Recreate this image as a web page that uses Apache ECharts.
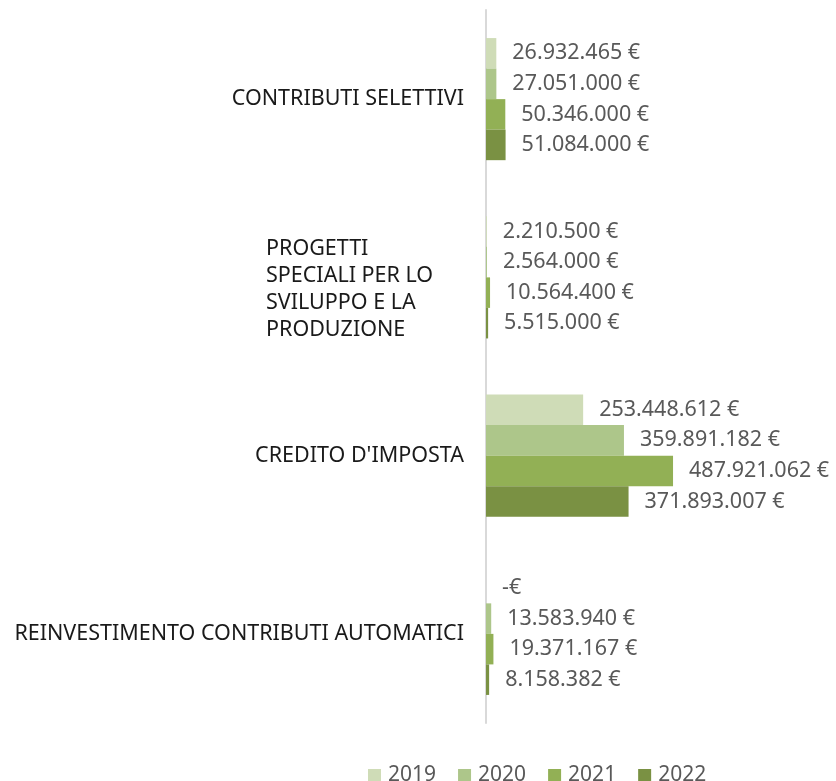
<!DOCTYPE html>
<html>
<head>
<meta charset="utf-8">
<script src="https://cdn.jsdelivr.net/npm/echarts@6/dist/echarts.min.js"></script>
<style>
  html, body { margin: 0; padding: 0; background: #fff; }
  #chart { width: 836px; height: 781px; }
</style>
</head>
<body>
<div id="chart"></div>
<script>
// Categories, top to bottom
const categories = [
  "CONTRIBUTI SELETTIVI",
  "PROGETTI\nSPECIALI PER LO\nSVILUPPO E LA\nPRODUZIONE",
  "CREDITO D'IMPOSTA",
  "REINVESTIMENTO CONTRIBUTI AUTOMATICI"
];

const years = ["2019", "2020", "2021", "2022"];

const values2019 = [26932465, 2210500, 253448612, 0];
const values2020 = [27051000, 2564000, 359891182, 13583940];
const values2021 = [50346000, 10564400, 487921062, 19371167];
const values2022 = [51084000, 5515000, 371893007, 8158382];

const colors = ["#cfdcb7", "#adc68a", "#92b055", "#7a9143"];

const fontFamily = "'Noto Sans', 'Open Sans', sans-serif";

// Italian style euro format, zero as "-€"
function euro(v) {
  if (!v) return "-€";
  return String(v).replace(/\B(?=(\d{3})+(?!\d))/g, ".") + " €";
}

const allValues = [values2019, values2020, values2021, values2022];

const option = {
  animation: false,
  color: colors,
  grid: {
    left: 486,
    right: 120,
    top: 10,
    bottom: 58
  },
  legend: {
    data: years,
    left: 363,
    top: 760,
    itemWidth: 13,
    itemHeight: 13,
    itemGap: 22,
    icon: "rect",
    textStyle: {
      fontFamily: fontFamily,
      fontSize: 21,
      color: "#595959",
      padding: [0, 0, 0, 2]
    }
  },
  xAxis: {
    type: "value",
    min: 0,
    max: 600000000,
    show: false
  },
  yAxis: {
    type: "category",
    inverse: true,
    data: categories,
    axisTick: { show: false },
    axisLine: {
      lineStyle: { color: "#d9d9d9", width: 2 }
    },
    axisLabel: {
      margin: 22,
      fontFamily: fontFamily,
      fontSize: 21.5,
      color: "#1a1a1a",
      formatter: function (val) {
        if (val.indexOf("\n") >= 0) {
          // wrapped label: left aligned block, nudged down a bit like the original
          return "{s|}\n" + val.split("\n").map(function (l) { return "{p|" + l + "}"; }).join("\n");
        }
        return val;
      },
      rich: {
        s: { lineHeight: 24, width: 198 },
        p: {
          width: 198,
          align: "left",
          fontFamily: fontFamily,
          fontSize: 21.5,
          lineHeight: 27,
          color: "#1a1a1a"
        }
      }
    }
  },
  series: years.map(function (y, i) {
    return {
      name: y,
      type: "bar",
      data: allValues[i],
      barGap: "0%",
      barCategoryGap: "31.5%",
      itemStyle: { color: colors[i] },
      label: {
        show: true,
        position: "right",
        distance: 16,
        fontFamily: fontFamily,
        fontSize: 21.5,
        color: "#595959",
        formatter: function (p) { return euro(p.value); }
      }
    };
  })
};

const myChart = echarts.init(document.getElementById("chart"));
myChart.setOption(option);
</script>
</body>
</html>
